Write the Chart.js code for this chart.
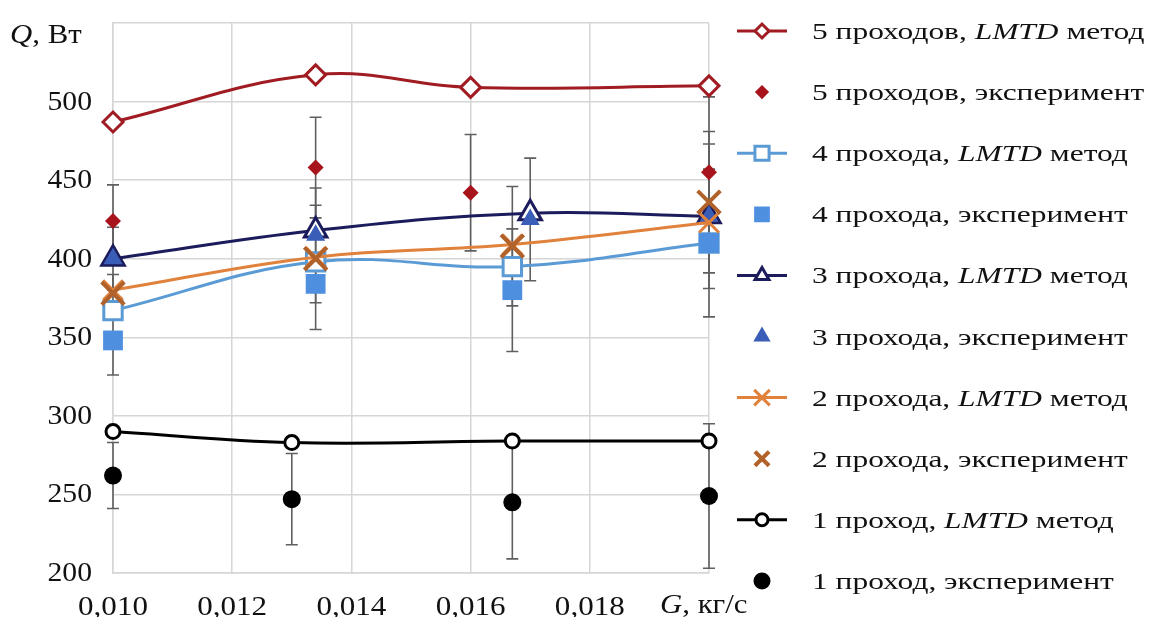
<!DOCTYPE html>
<html>
<head>
<meta charset="utf-8">
<title>Q(G)</title>
<script src="https://cdn.jsdelivr.net/npm/chart.js@4/dist/chart.umd.min.js"></script>
<style>
  html, body { margin: 0; padding: 0; background: #fff; }
  #wrap { position: relative; width: 1150px; height: 617px; }
</style>
</head>
<body>
<div id="wrap"><canvas id="chart" width="1150" height="617"></canvas></div>
<script>
// расход G, кг/с и тепловой поток Q, Вт
const gLmtd5 = [0.0100, 0.0134, 0.0160, 0.0200];
const qLmtd5 = [487, 517, 509, 510];
const gExp5 = [0.0100, 0.0134, 0.0160, 0.0200];
const qExp5 = [424, 458, 442, 455];
const errExp5 = [23, 32, 37, 48];

const gLmtd4 = [0.0100, 0.0134, 0.0167, 0.0200];
const qLmtd4 = [367, 398, 395, 410];
const gExp4 = [0.0100, 0.0134, 0.0167, 0.0200];
const qExp4 = [348, 384, 380, 410];
const errExp4 = [22, 12, 39, 47];

const gLmtd3 = [0.0100, 0.0134, 0.0170, 0.0200];
const qLmtd3 = [400, 418, 429, 427];
const gExp3 = [0.0100, 0.0134, 0.0170, 0.0200];
const qExp3 = [400, 415, 425, 427];
const errExp3 = [20, 19, 39, 46];

const gLmtd2 = [0.0100, 0.0134, 0.0167, 0.0200];
const qLmtd2 = [380, 401, 409, 423];
const gExp2 = [0.0100, 0.0134, 0.0167, 0.0200];
const qExp2 = [378, 400, 408, 436];
const errExp2 = [12, 45, 38, 45];

const gLmtd1 = [0.0100, 0.0130, 0.0167, 0.0200];
const qLmtd1 = [290, 283, 284, 284];
const gExp1 = [0.0100, 0.0130, 0.0167, 0.0200];
const qExp1 = [262, 247, 245, 249];
const errExp1 = [21, 29, 36, 46];

const xTicks = [0.010, 0.012, 0.014, 0.016, 0.018, 0.020];
const xTickLabels = ['0,010', '0,012', '0,014', '0,016', '0,018', ''];
const yTicks = [200, 250, 300, 350, 400, 450, 500, 550];
const yTickLabels = ['200', '250', '300', '350', '400', '450', '500', ''];

const SERIF = '"Liberation Serif", "DejaVu Serif", serif';

const pts = (gs, qs) => gs.map((g, i) => ({ x: g, y: qs[i] }));

function lmtd(label, gs, qs, color, style, radius, legendRadius) {
    return {
        label, data: pts(gs, qs), showLine: true,
        borderColor: color, borderWidth: 3, tension: 0.4,
        pointStyle: style, pointRadius: radius, pointBorderWidth: 3,
        pointBorderColor: color, pointBackgroundColor: '#fff',
        legendRadius
    };
}

function exper(label, gs, qs, errs, color, style, radius, legendRadius, bw) {
    return {
        label, data: pts(gs, qs), showLine: false, errors: errs,
        borderColor: color, backgroundColor: color,
        pointStyle: style, pointRadius: radius, pointBorderWidth: bw || 0,
        pointBorderColor: color, pointBackgroundColor: color,
        legendRadius
    };
}

const datasets = [
    lmtd('5 проходов, LMTD метод', gLmtd5, qLmtd5, '#A01C22', 'rectRot', 10, 7),
    exper('5 проходов, эксперимент', gExp5, qExp5, errExp5, '#A8141C', 'rectRot', 8, 5),
    lmtd('4 прохода, LMTD метод', gLmtd4, qLmtd4, '#5B9BD5', 'rect', 13, 10),
    exper('4 прохода, эксперимент', gExp4, qExp4, errExp4, '#4F8FE0', 'rect', 14, 9),
    lmtd('3 прохода, LMTD метод', gLmtd3, qLmtd3, '#1C1C5C', 'triangle', 13, 8),
    exper('3 прохода, эксперимент', gExp3, qExp3, errExp3, '#3A5DB8', 'triangle', 11, 7),
    lmtd('2 прохода, LMTD метод', gLmtd2, qLmtd2, '#E0823C', 'crossRot', 14, 11),
    exper('2 прохода, эксперимент', gExp2, qExp2, errExp2, '#B0622A', 'crossRot', 16, 10, 4),
    lmtd('1 проход, LMTD метод', gLmtd1, qLmtd1, '#000', 'circle', 7, 6),
    exper('1 проход, эксперимент', gExp1, qExp1, errExp1, '#000', 'circle', 9, 7)
];
// как в Excel: более поздний ряд рисуется поверх
datasets.forEach((ds, i) => { ds.order = -i; ds.clip = false; });

const errorBars = {
    id: 'errorBars',
    beforeDatasetsDraw(chart) {
        const ctx = chart.ctx;
        const xs = chart.scales.x, ys = chart.scales.y;
        ctx.save();
        ctx.strokeStyle = '#5f5f5f';
        ctx.lineWidth = 1.6;
        chart.data.datasets.forEach(ds => {
            if (!ds.errors) return;
            ds.data.forEach((p, i) => {
                const e = ds.errors[i];
                const px = xs.getPixelForValue(p.x);
                const top = ys.getPixelForValue(p.y + e);
                const bot = ys.getPixelForValue(p.y - e);
                ctx.beginPath();
                ctx.moveTo(px, top); ctx.lineTo(px, bot);
                ctx.moveTo(px - 6, top); ctx.lineTo(px + 6, top);
                ctx.moveTo(px - 6, bot); ctx.lineTo(px + 6, bot);
                ctx.stroke();
            });
        });
        ctx.restore();
    }
};

// текст, растянутый по горизонтали (исходный рисунок растянут)
function wideText(ctx, parts, x, y, size, sx, align) {
    ctx.save();
    ctx.translate(x, y);
    ctx.scale(sx, 1);
    let total = 0;
    parts.forEach(([txt, italic]) => {
        ctx.font = (italic ? 'italic ' : '') + size + 'px ' + SERIF;
        total += ctx.measureText(txt).width;
    });
    let cx = align === 'right' ? -total : align === 'center' ? -total / 2 : 0;
    ctx.textAlign = 'left';
    parts.forEach(([txt, italic]) => {
        ctx.font = (italic ? 'italic ' : '') + size + 'px ' + SERIF;
        ctx.fillText(txt, cx, 0);
        cx += ctx.measureText(txt).width;
    });
    ctx.restore();
}

const textLayer = {
    id: 'textLayer',
    afterDraw(chart) {
        const ctx = chart.ctx;
        const xs = chart.scales.x, ys = chart.scales.y;
        ctx.save();
        ctx.textBaseline = 'alphabetic';
        ctx.fillStyle = '#111';

        yTicks.forEach((v, i) => {
            wideText(ctx, [[yTickLabels[i], false]], 92, ys.getPixelForValue(v) + 8, 27, 1.1, 'right');
        });
        xTicks.forEach((v, i) => {
            wideText(ctx, [[xTickLabels[i], false]], xs.getPixelForValue(v), 615, 27, 1.15, 'center');
        });

        chart.data.datasets.forEach((ds, i) => {
            const cy = 31 + i * 61.1;
            if (ds.showLine) {
                ctx.strokeStyle = ds.borderColor;
                ctx.lineWidth = 3;
                ctx.beginPath();
                ctx.moveTo(737, cy); ctx.lineTo(787, cy);
                ctx.stroke();
            }
            ctx.fillStyle = ds.pointBackgroundColor;
            ctx.strokeStyle = ds.pointBorderColor;
            ctx.lineWidth = ds.pointBorderWidth || (ds.pointStyle === 'crossRot' ? 3 : 0);
            Chart.helpers.drawPoint(ctx, {
                pointStyle: ds.pointStyle, radius: ds.legendRadius,
                rotation: 0, borderWidth: ctx.lineWidth
            }, 762, cy);
            ctx.fillStyle = '#111';
            const bits = ds.label.split('LMTD');
            const parts = bits.length > 1 ? [[bits[0], false], ['LMTD', true], [bits[1], false]] : [[ds.label, false]];
            wideText(ctx, parts, 812, cy + 8, 24, 1.31, 'left');
        });

        wideText(ctx, [['Q', true], [', Вт', false]], 10, 43, 28, 1.1, 'left');
        wideText(ctx, [['G', true], [', кг/с', false]], 660, 613, 28, 1.1, 'left');
        ctx.restore();
    }
};

new Chart(document.getElementById('chart'), {
    type: 'scatter',
    data: { datasets },
    plugins: [errorBars, textLayer],
    options: {
        responsive: false,
        animation: false,
        devicePixelRatio: 1,
        layout: { padding: { top: 23, right: 441, left: 0, bottom: 0 } },
        plugins: { legend: { display: false }, tooltip: { enabled: false } },
        scales: {
            x: {
                type: 'linear', min: 0.010, max: 0.020,
                afterBuildTicks: s => { s.ticks = xTicks.map(v => ({ value: v })); },
                afterFit: s => { s.height = 44; },
                grid: { color: '#d6d6d6', lineWidth: 1.5, tickLength: 0 },
                border: { color: '#d6d6d6', width: 1.5 },
                ticks: { display: false }
            },
            y: {
                min: 200, max: 550,
                afterBuildTicks: s => { s.ticks = yTicks.map(v => ({ value: v })); },
                afterFit: s => { s.width = 113; },
                grid: { color: '#d6d6d6', lineWidth: 1.5, tickLength: 0 },
                border: { color: '#d6d6d6', width: 1.5 },
                ticks: { display: false }
            }
        }
    }
});
</script>
</body>
</html>
